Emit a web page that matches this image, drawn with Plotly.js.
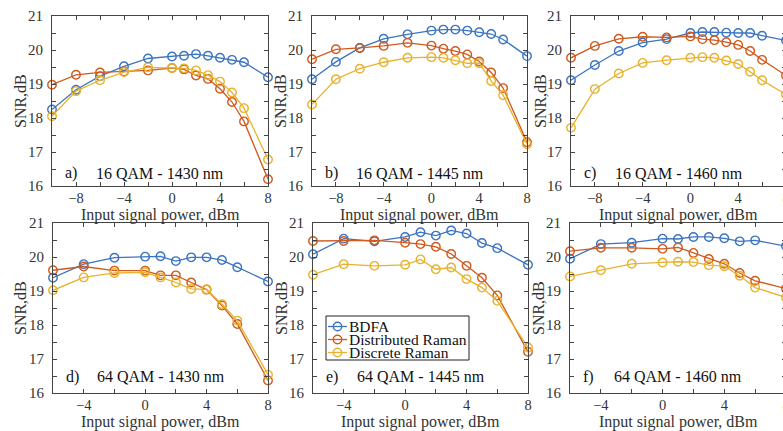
<!DOCTYPE html>
<html><head><meta charset="utf-8">
<script src="https://cdn.plot.ly/plotly-3.0.1.min.js"></script>
<style>html,body{margin:0;padding:0;overflow:hidden;background:#fff;width:783px;height:431px}#chart{width:800px;height:431px}</style>
</head><body><div id="chart"></div>
<script>
const seriesNames = ["BDFA", "Distributed Raman", "Discrete Raman"];
const xTop = [-10, -8, -6, -4, -2, 0, 1, 2, 3, 4, 5, 6, 8];
const xBot = [-6, -4, -2, 0, 1, 2, 3, 4, 5, 6, 8];

const a_bdfa = [18.25, 18.83, 19.23, 19.52, 19.75, 19.81, 19.83, 19.88, 19.83, 19.77, 19.71, 19.64, 19.20];
const a_dist = [18.98, 19.27, 19.34, 19.37, 19.40, 19.47, 19.43, 19.25, 19.15, 18.86, 18.47, 17.90, 16.20];
const a_disc = [18.05, 18.79, 19.11, 19.35, 19.49, 19.47, 19.46, 19.40, 19.26, 19.07, 18.75, 18.29, 16.78];

const b_bdfa = [19.14, 19.65, 20.06, 20.33, 20.46, 20.57, 20.60, 20.60, 20.57, 20.52, 20.47, 20.31, 19.82];
const b_dist = [19.73, 20.02, 20.06, 20.12, 20.21, 20.13, 20.04, 19.97, 19.87, 19.66, 19.34, 18.88, 17.29];
const b_disc = [18.40, 19.14, 19.45, 19.64, 19.77, 19.79, 19.77, 19.70, 19.61, 19.61, 19.09, 18.67, 17.23];

const c_bdfa = [19.11, 19.56, 19.97, 20.22, 20.32, 20.50, 20.53, 20.53, 20.51, 20.50, 20.50, 20.42, 20.28];
const c_dist = [19.77, 20.12, 20.33, 20.39, 20.37, 20.40, 20.32, 20.29, 20.23, 20.15, 19.97, 19.71, 19.25];
const c_disc = [17.71, 18.85, 19.31, 19.62, 19.70, 19.77, 19.79, 19.77, 19.69, 19.59, 19.36, 19.11, 18.69];

const d_bdfa = [19.39, 19.79, 19.98, 20.01, 20.02, 19.88, 19.99, 19.99, 19.91, 19.70, 19.28];
const d_dist = [19.61, 19.72, 19.60, 19.60, 19.46, 19.46, 19.25, 19.04, 18.57, 18.03, 16.37];
const d_disc = [19.02, 19.40, 19.53, 19.55, 19.40, 19.25, 19.06, 19.05, 18.61, 18.13, 16.54];

const e_bdfa = [20.08, 20.54, 20.46, 20.59, 20.73, 20.63, 20.78, 20.69, 20.41, 20.26, 19.77];
const e_dist = [20.47, 20.47, 20.49, 20.42, 20.38, 20.30, 20.09, 19.74, 19.39, 18.87, 17.21];
const e_disc = [19.48, 19.79, 19.74, 19.77, 19.93, 19.64, 19.69, 19.35, 19.10, 18.71, 17.34];

const f_bdfa = [19.95, 20.38, 20.42, 20.54, 20.53, 20.59, 20.59, 20.55, 20.46, 20.49, 20.32];
const f_dist = [20.17, 20.27, 20.27, 20.24, 20.28, 20.12, 19.94, 19.80, 19.53, 19.30, 19.07];
const f_disc = [19.43, 19.61, 19.80, 19.84, 19.86, 19.85, 19.76, 19.73, 19.45, 19.10, 18.81];

const panelLetters = ["a)", "b)", "c)", "d)", "e)", "f)"];
const panelLabels = ["16 QAM - 1430 nm", "16 QAM - 1445 nm", "16 QAM - 1460 nm",
                     "64 QAM - 1430 nm", "64 QAM - 1445 nm", "64 QAM - 1460 nm"];
const xTitle = "Input signal power, dBm";
const yTitle = "SNR,dB";

const colors = ["#3B74C2", "#CF5A1E", "#E8B22C"];
const W = 800, H = 431;
const FONT = "Liberation Serif";

const panels = [
  {x: xTop, ys: [a_bdfa, a_dist, a_disc], range: [-10, 8]},
  {x: xTop, ys: [b_bdfa, b_dist, b_disc], range: [-10, 8]},
  {x: xTop, ys: [c_bdfa, c_dist, c_disc], range: [-10, 8]},
  {x: xBot, ys: [d_bdfa, d_dist, d_disc], range: [-6, 8]},
  {x: xBot, ys: [e_bdfa, e_dist, e_disc], range: [-6, 8]},
  {x: xBot, ys: [f_bdfa, f_dist, f_disc], range: [-6, 8]}
];
// pixel domains
const xDomPx = [[52, 268], [312, 527], [571, 786], [53, 268], [313, 528], [570, 786]];
const yDomPx = [[16, 186], [16, 186], [16, 186], [223, 393], [223, 393], [223, 393]];
const yTitleX = [20, 280, 540, 20, 281, 538];

const traces = [];
const layout = {
  width: W, height: H, margin: {l: 0, r: 0, t: 0, b: 0},
  paper_bgcolor: "#fff", plot_bgcolor: "#fff",
  showlegend: false, font: {family: FONT, color: "#333", size: 15},
  annotations: [], shapes: []
};
const px = v => v / W, py = v => 1 - v / H;

panels.forEach((p, i) => {
  const n = i + 1;
  const xa = n === 1 ? "x" : "x" + n, ya = n === 1 ? "y" : "y" + n;
  p.ys.forEach((y, s) => {
    traces.push({
      x: p.x, y: y, xaxis: xa, yaxis: ya, type: "scatter", mode: "lines+markers",
      name: seriesNames[s], cliponaxis: false,
      line: {color: colors[s], width: 1.3},
      marker: {symbol: "circle-open", size: 8.5, color: colors[s], line: {width: 1.4, color: colors[s]}}
    });
  });
  const axCommon = {
    showgrid: false, zeroline: false, showline: true, linecolor: "#444", linewidth: 1,
    mirror: "ticks", ticks: "inside", ticklen: 4, tickcolor: "#444", tickwidth: 1,
    tickfont: {family: FONT, size: 15, color: "#333"}
  };
  layout[n === 1 ? "xaxis" : "xaxis" + n] = Object.assign({}, axCommon, {
    domain: [xDomPx[i][0] / W, xDomPx[i][1] / W], anchor: ya,
    range: p.range, tickmode: "linear", tick0: 0, dtick: 4,
    minor: {dtick: 2, ticks: "inside", ticklen: 4, tickcolor: "#444"},
    tickfont: {family: FONT, size: 14.5, color: "#333"},
    ticklabelstandoff: -1
  });
  layout[n === 1 ? "yaxis" : "yaxis" + n] = Object.assign({}, axCommon, {
    domain: [1 - yDomPx[i][1] / H, 1 - yDomPx[i][0] / H], anchor: xa,
    range: [16, 21], tickmode: "linear", tick0: 16, dtick: 1,
    minor: {dtick: 0.5, ticks: "inside", ticklen: 4, tickcolor: "#444"},
    ticklabelstandoff: 5
  });
  const top = i < 3;
  // axis titles
  layout.annotations.push({
    xref: "paper", yref: "paper", x: px((xDomPx[i][0] + xDomPx[i][1]) / 2), y: py(top ? 215 : 421.5),
    xanchor: "center", yanchor: "middle", showarrow: false, text: xTitle,
    font: {family: FONT, size: 16, color: "#333"}
  });
  layout.annotations.push({
    xref: "paper", yref: "paper", x: px(yTitleX[i]), y: py((yDomPx[i][0] + yDomPx[i][1]) / 2),
    xanchor: "center", yanchor: "middle", showarrow: false, text: yTitle, textangle: -90,
    font: {family: FONT, size: 16, color: "#333"}
  });
  // panel labels
  layout.annotations.push({
    xref: xa + " domain", yref: ya + " domain", x: 0.05, y: top ? 0.075 : 0.096,
    xanchor: "left", yanchor: "middle", showarrow: false, text: panelLetters[i],
    font: {family: FONT, size: 16, color: "#111"}
  });
  layout.annotations.push({
    xref: xa + " domain", yref: ya + " domain", x: 0.5, y: top ? 0.075 : 0.096,
    xanchor: "center", yanchor: "middle", showarrow: false, text: panelLabels[i],
    font: {family: FONT, size: 16, color: "#111"}
  });
});

// Legend (drawn inside panel e)
layout.shapes.push({type: "rect", xref: "paper", yref: "paper",
  x0: px(326), x1: px(469), y0: py(360), y1: py(316),
  line: {color: "#222", width: 1}, fillcolor: "#fff", layer: "above"});
const legY = [326.5, 339.5, 352.5];
seriesNames.forEach((nm, s) => {
  layout.shapes.push({type: "line", xref: "paper", yref: "paper",
    x0: px(328), x1: px(347), y0: py(legY[s]), y1: py(legY[s]),
    line: {color: colors[s], width: 1.3}, layer: "above"});
  layout.shapes.push({type: "circle", xref: "paper", yref: "paper",
    xsizemode: "pixel", ysizemode: "pixel", xanchor: px(337.5), yanchor: py(legY[s]),
    x0: -4.2, x1: 4.2, y0: -4.2, y1: 4.2,
    line: {color: colors[s], width: 1.4}, fillcolor: "rgba(0,0,0,0)", layer: "above"});
  layout.annotations.push({xref: "paper", yref: "paper", x: px(347), y: py(legY[s]),
    xanchor: "left", yanchor: "middle", showarrow: false, text: nm,
    font: {family: FONT, size: 15.5, color: "#111"}});
});

Plotly.newPlot("chart", traces, layout, {staticPlot: true});
</script>
</body></html>
